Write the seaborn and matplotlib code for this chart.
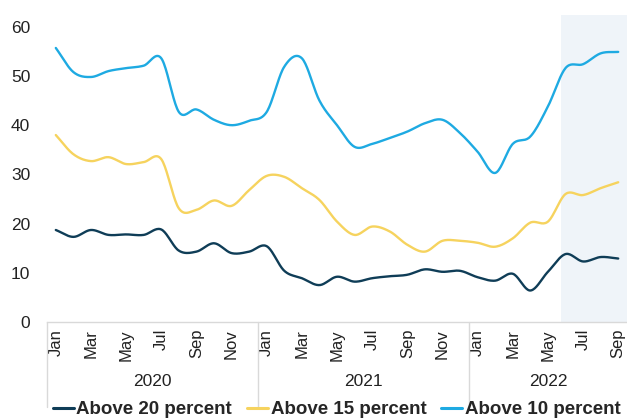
import numpy as np
import pandas as pd
import matplotlib
matplotlib.use("Agg")
import matplotlib.pyplot as plt
import seaborn as sns

# Monthly observations, Jan 2020 - Sep 2022
month_names = ["Jan", "Feb", "Mar", "Apr", "May", "Jun",
               "Jul", "Aug", "Sep", "Oct", "Nov", "Dec"]
years = ["2020", "2021", "2022"]
months_per_year = [12, 12, 9]

above_20 = [18.7, 17.3, 18.7, 17.7, 17.8, 17.7, 18.8, 14.5, 14.3, 16.0, 14.0, 14.3,
            15.4, 10.4, 8.9, 7.5, 9.2, 8.2, 8.9, 9.3, 9.6, 10.7, 10.2, 10.4,
            9.1, 8.4, 9.8, 6.4, 10.2, 13.8, 12.3, 13.2, 12.9]
above_15 = [38.0, 34.1, 32.7, 33.5, 32.1, 32.5, 33.1, 23.1, 22.8, 24.7, 23.6, 26.8,
            29.7, 29.5, 27.2, 24.8, 20.4, 17.7, 19.4, 18.4, 15.7, 14.3, 16.5, 16.5,
            16.1, 15.3, 17.0, 20.2, 20.4, 26.0, 25.8, 27.2, 28.4]
above_10 = [55.7, 50.8, 49.8, 51.0, 51.6, 52.1, 53.6, 42.7, 43.2, 41.1, 40.0, 40.9,
            42.7, 51.9, 53.6, 45.0, 40.0, 35.6, 36.2, 37.4, 38.7, 40.4, 41.1, 38.4,
            34.6, 30.3, 36.2, 37.7, 43.8, 51.6, 52.4, 54.6, 54.9]

series = {
    "Above 20 percent": above_20,
    "Above 15 percent": above_15,
    "Above 10 percent": above_10,
}
colors = {
    "Above 20 percent": "#0f3d57",
    "Above 15 percent": "#f6d35e",
    "Above 10 percent": "#1eaae2",
}


def smooth(values, steps=20):
    """Catmull-Rom curve through the monthly points."""
    p = np.asarray(values, dtype=float)
    x = np.arange(len(p), dtype=float)
    pp = np.concatenate([[2 * p[0] - p[1]], p, [2 * p[-1] - p[-2]]])
    xs, ys = [], []
    t = np.linspace(0, 1, steps, endpoint=False)
    for i in range(len(p) - 1):
        p0, p1, p2, p3 = pp[i], pp[i + 1], pp[i + 2], pp[i + 3]
        y = 0.5 * ((2 * p1) + (-p0 + p2) * t +
                   (2 * p0 - 5 * p1 + 4 * p2 - p3) * t ** 2 +
                   (-p0 + 3 * p1 - 3 * p2 + p3) * t ** 3)
        xs.append(x[i] + t)
        ys.append(y)
    xs.append([x[-1]])
    ys.append([p[-1]])
    return np.concatenate(xs), np.concatenate(ys)


frames = []
for name, vals in series.items():
    xs, ys = smooth(vals)
    frames.append(pd.DataFrame({"x": xs, "value": ys, "series": name}))
df = pd.concat(frames, ignore_index=True)

sns.set_theme(style="white")
plt.rcParams["font.family"] = ["Liberation Sans", "DejaVu Sans"]

fig = plt.figure(figsize=(6.27, 4.18), dpi=100)
ax = fig.add_axes([0.075, 0.2297, 0.925, 0.7356])

n = len(above_20)
ax.axvspan(28.75, n - 0.5, color="#eff4f9", zorder=0, lw=0)

sns.lineplot(data=df, x="x", y="value", hue="series", palette=colors,
             hue_order=list(series.keys()), linewidth=1.7, ax=ax,
             sort=False, estimator=None)

ax.set_xlim(-0.5, n - 0.5)
ax.set_ylim(0, 62.5)
ax.set_yticks(range(0, 61, 10))
ax.set_yticklabels([str(v) for v in range(0, 61, 10)], fontsize=12.5, color="#222222")
ax.tick_params(axis="y", length=0, pad=12)

# month labels every other month
tick_pos, tick_lab = [], []
i = 0
for y, m in zip(years, months_per_year):
    for k in range(m):
        if k % 2 == 0:
            tick_pos.append(i)
            tick_lab.append(month_names[k])
        i += 1
ax.set_xticks(tick_pos)
ax.set_xticklabels(tick_lab, rotation=90, fontsize=12, color="#222222")
ax.tick_params(axis="x", length=0, pad=5)
ax.set_xlabel("")
ax.set_ylabel("")

for s in ["top", "right", "left"]:
    ax.spines[s].set_visible(False)
ax.spines["bottom"].set_color("#d9d9d9")
ax.spines["bottom"].set_linewidth(1.0)

# year group separators and labels
trans = ax.get_xaxis_transform()
start = 0
bounds = [-0.5]
for y, m in zip(years, months_per_year):
    center = start + (m - 1) / 2
    ax.text(center, -0.192, y, transform=trans, ha="center", va="center",
            fontsize=12.5, color="#222222")
    start += m
    bounds.append(start - 0.5)
for b in bounds[:-1]:
    ax.plot([b, b], [0, -0.277], transform=trans, color="#d9d9d9", lw=1.0,
            clip_on=False)

leg = ax.get_legend()
handles, labels = ax.get_legend_handles_labels()
leg.remove()
for h in handles:
    h.set_linewidth(2.2)
fig.legend(handles, labels, loc="center", bbox_to_anchor=(0.537, 0.02),
           ncol=3, frameon=False, handlelength=1.1, handletextpad=0.15,
           columnspacing=0.8, prop={"size": 13.5, "weight": "bold"})

fig.savefig("out.png", dpi=100)
